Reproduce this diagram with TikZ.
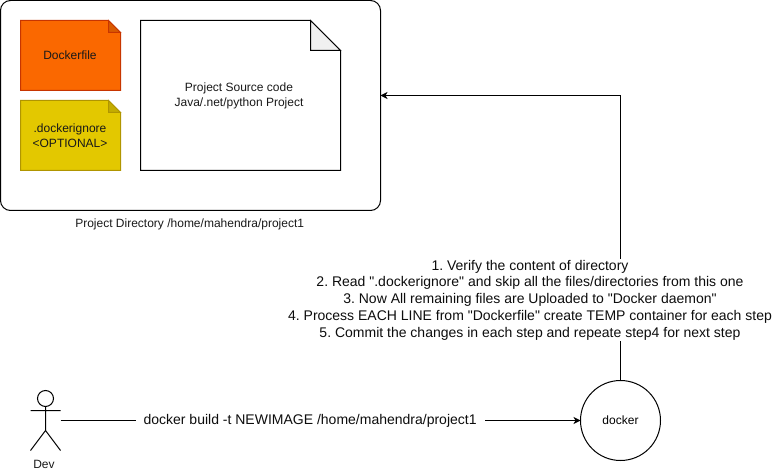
\documentclass[tikz,border=0pt]{standalone}
\usepackage{fontspec}
\setmainfont{Liberation Sans}
\newfontfamily\plainsans{Liberation Sans}
\usetikzlibrary{arrows.meta}
\definecolor{orangefill}{HTML}{FA6800}
\definecolor{orangeline}{HTML}{C73500}
\definecolor{orangefold}{HTML}{D95A00}
\definecolor{yellowfill}{HTML}{E3C800}
\definecolor{yellowline}{HTML}{B09500}
\definecolor{yellowfold}{HTML}{C4AD00}
\definecolor{paperfold}{HTML}{F0F0F0}
\tikzset{
  x=1pt,y=-1pt,
  line/.style={line width=1pt,draw=black},
  conn/.style={line,-{Stealth[length=7pt,width=7pt,inset=2pt]}},
  smalltext/.style={font=\plainsans\frenchspacing\fontsize{12}{15}\selectfont,align=center,text=black!90,inner sep=0pt},
  bigtext/.style={font=\plainsans\frenchspacing\fontsize{14}{16.8}\selectfont,align=center,text=black!95,fill=white},
  area/.style={line,rounded corners=10pt,minimum width=380pt,minimum height=210pt,inner sep=0pt,outer sep=0pt},
  sheet/.style={inner sep=0pt,outer sep=0pt,anchor=north west},
}
% name, x, y, w, h, fold, fill, stroke, fold fill
\newcommand{\foldsheet}[9]{%
  \filldraw[line width=1pt,draw=#8,fill=#7] (#2,#3) -- ++(#4-#6,0) -- ++(#6,#6) -- ++(0,#5-#6) -- ++(-#4,0) -- cycle;
  \filldraw[line width=1pt,draw=#8,fill=#9] (#2+#4-#6,#3) -- ++(#6,#6) -- ++(-#6,0) -- cycle;
  \node[sheet,minimum width=#4 pt,minimum height=#5 pt] (#1) at (#2,#3) {};
}
\begin{document}
\begin{tikzpicture}
\useasboundingbox (0,0) rectangle (772,473);
\node[area,anchor=north west] (project) at (0.5,0.5) {};
\coordinate (projectin) at (380.5,95.5);
\foldsheet{dockerfile}{20.5}{20.5}{100}{70}{12}{orangefill}{orangeline}{orangefold}
\node[smalltext] (dockerfilelabel) at (70,55) {Dockerfile};
\foldsheet{ignore}{20.5}{100.5}{100}{70}{12}{yellowfill}{yellowline}{yellowfold}
\node[smalltext] (ignorelabel) at (70,135.5) {.dockerignore\\\textless OPTIONAL\textgreater};
\foldsheet{source}{140.5}{20.5}{200}{150}{30}{white}{black}{paperfold}
\node[smalltext] (sourcelabel) at (239,95.5) {Project Source code\\ Java/.net/python Project};
\node[smalltext] (projectlabel) at (189.7,224) {Project Directory /home/mahendra/project1};
\node[line,circle,minimum size=80pt,inner sep=0pt,outer sep=0pt,font=\plainsans\fontsize{12}{14}\selectfont] (docker) at (620.5,420.5) {docker};
\node[inner sep=0pt,outer sep=0pt,minimum width=30pt,minimum height=60pt] (dev) at (45.5,420.5) {};
\draw[line] (45.5,398.5) circle (8);
\draw[line] (45.5,406.5) -- (45.5,430.5) (30.5,410.5) -- (60.5,410.5) (30.5,450.5) -- (45.5,430.5) -- (60.5,450.5);
\node[smalltext] (devlabel) at (44,464) {Dev};
\draw[conn] (dev.east) -- node[pos=0.48,bigtext,inner xsep=8pt,inner ysep=1pt] (cmd) {docker build -t NEWIMAGE /home/mahendra/project1} (docker.west);
\draw[conn] (docker.north) |- (projectin);
\node[bigtext,inner sep=0pt,inner ysep=1pt] (steps) at (530,300) {1. Verify the content of directory\\2. Read ".dockerignore" and skip all the files/directories from this one\\3. Now All remaining files are Uploaded to "Docker daemon"\\4. Process EACH LINE from "Dockerfile" create TEMP container for each step\\5. Commit the changes in each step and repeate step4 for next step};
\end{tikzpicture}
\end{document}
